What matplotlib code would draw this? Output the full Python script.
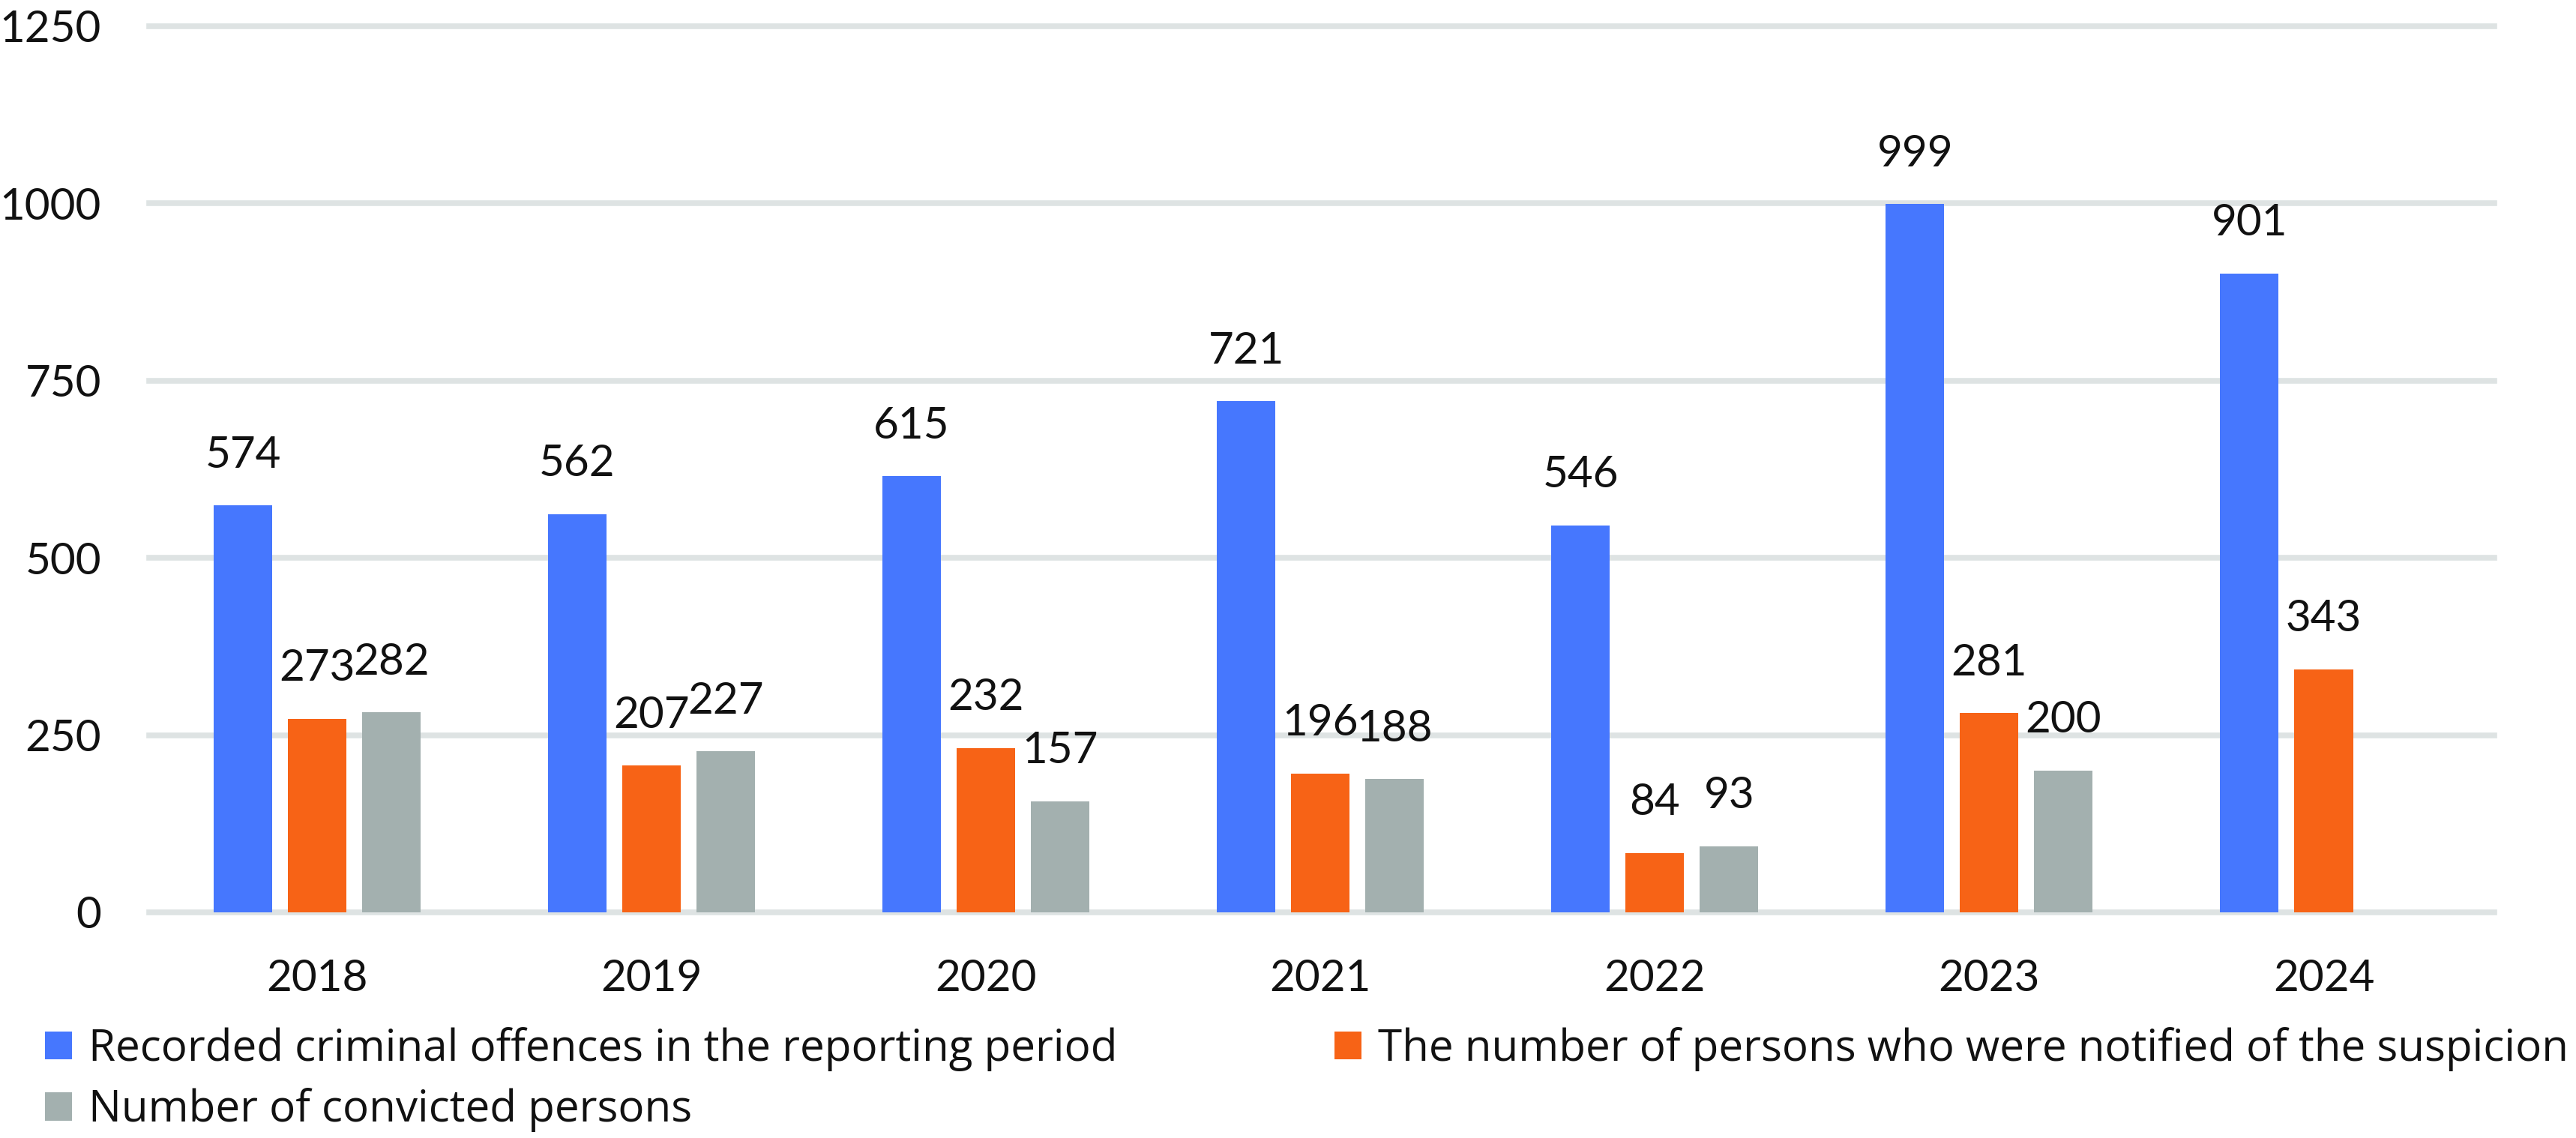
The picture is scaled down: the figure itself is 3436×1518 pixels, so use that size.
import numpy as np
import matplotlib
matplotlib.use("Agg")
from matplotlib import pyplot as plt

# data
years = ['2018', '2019', '2020', '2021', '2022', '2023', '2024']
recorded = [574, 562, 615, 721, 546, 999, 901]
notified = [273, 207, 232, 196, 84, 281, 343]
convicted = [282, 227, 157, 188, 93, 200, np.nan]   # no 2024 value

labels = ['Recorded criminal offences in the reporting period',
          'The number of persons who were notified of the suspicion',
          'Number of convicted persons']
colors = ['#4677FE', '#F76316', '#A3B0AF']
yticks = [0, 250, 500, 750, 1000, 1250]

plt.rcParams['font.family'] = ['Lato', 'DejaVu Sans']

W, H = 3437, 1518
fig = plt.figure(figsize=(W / 100, H / 100), dpi=100)
ax = fig.add_axes([199 / W, 1 - 1217 / H, (3327 - 199) / W, (1217 - 35) / H])

x = np.arange(len(years))
step = 0.222
width = 0.175
bars = []
for k, (vals, col) in enumerate(zip([recorded, notified, convicted], colors)):
    b = ax.bar(x + (k - 1) * step, vals, width, color=col, zorder=3, label=labels[k])
    bars.append(b)
    for xi, v in zip(x, vals):
        if np.isnan(v):
            continue
        ax.annotate(str(int(v)), (xi + (k - 1) * step, v), xytext=(0, 36.5),
                    textcoords='offset points', ha='center', va='baseline',
                    fontsize=42, color='#111111')

ax.set_xlim(-0.502, 6.51)
ax.set_ylim(0, 1250)
ax.set_yticks(yticks)
ax.set_xticks(x)
ax.set_xticklabels(years)
ax.tick_params(axis='both', length=0, labelsize=42, colors='#111111')
ax.tick_params(axis='y', pad=46)
ax.tick_params(axis='x', pad=45)
ax.grid(axis='y', color='#DEE3E3', linewidth=5.5, zorder=0)
for gl in ax.get_ygridlines():
    gl.set_clip_on(False)
for s in ax.spines.values():
    s.set_visible(False)

# legend: two pieces so each column sits where it does in the original
leg_kw = dict(loc='upper left', frameon=False, borderpad=0,
              prop={'family': ['Open Sans', 'DejaVu Sans'], 'size': 42},
              borderaxespad=0, handlelength=0.62, handleheight=0.62,
              handletextpad=0.38, labelspacing=0.38, labelcolor='#111111')
fig.legend([bars[0], bars[2]], [labels[0], labels[2]],
           bbox_to_anchor=(60 / W, 1 - 1370 / H), **leg_kw)
fig.legend([bars[1]], [labels[1]],
           bbox_to_anchor=(1780 / W, 1 - 1370 / H), **leg_kw)

plt.savefig('out.png', dpi=100)
